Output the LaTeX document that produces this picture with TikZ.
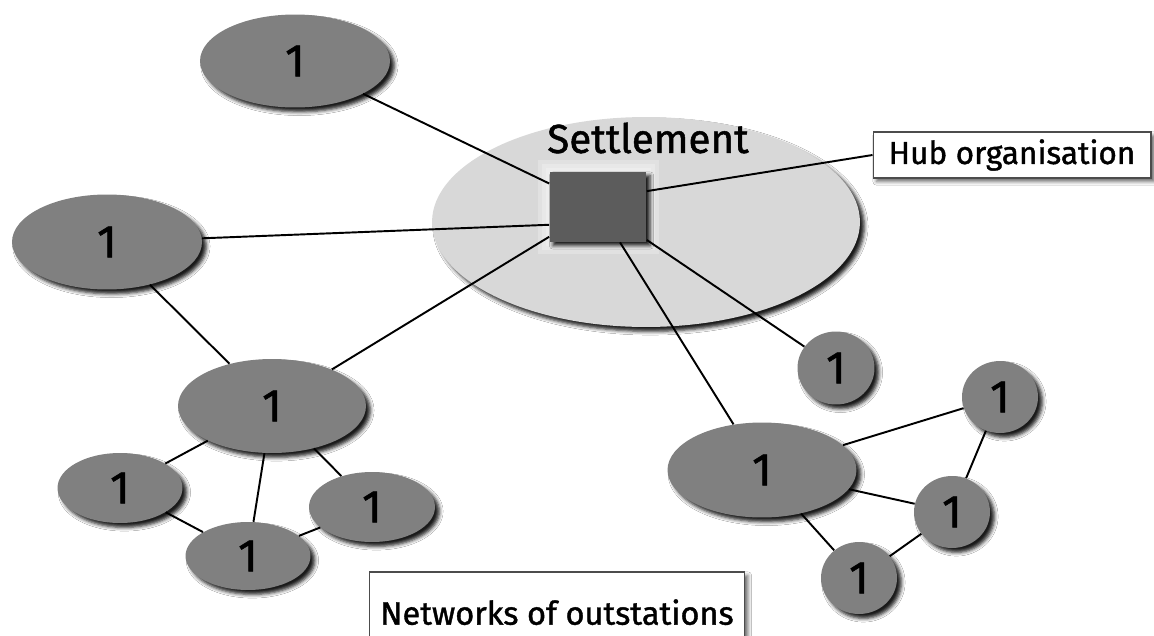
\documentclass[tikz,border=0pt]{standalone}
\usepackage{fontspec}
\setmainfont{Fira Sans}[FakeBold=1.2]
\usepackage{tikz}
\usetikzlibrary{shapes.geometric, positioning, shadows.blur}
\definecolor{stationgray}{RGB}{128,128,128}
\definecolor{settlegray}{RGB}{216,216,216}
\definecolor{hubgray}{RGB}{92,92,92}

\tikzset{
    outstation/.style={ellipse, fill=stationgray, inner sep=0pt,
        font=\fontsize{26}{30}\selectfont,
        blur shadow={shadow xshift=2.5pt, shadow yshift=-2.5pt, shadow blur steps=4, shadow opacity=90}},
    labelbox/.style={rectangle, draw=black!70, fill=white, line width=0.6pt, inner sep=0pt,
        font=\fontsize{18}{22}\selectfont,
        blur shadow={shadow xshift=2pt, shadow yshift=-2pt, shadow blur steps=4, shadow opacity=60}},
    link/.style={draw=black, line width=1.1pt}
}

\begin{document}
\begin{tikzpicture}[x=0.02cm, y=-0.02cm]
    \clip (0,0) rectangle (1154,636);
    \fill[white] (0,0) rectangle (1154,636);

    % settlement and hub
    \node[ellipse, fill=settlegray, minimum width=8.56cm, minimum height=4.2cm,
          blur shadow={shadow xshift=2.5pt, shadow yshift=-2.5pt, shadow blur steps=4, shadow opacity=90}]
          (settlement) at (646,222) {};
    \node[font=\fontsize{23}{27}\selectfont] (settlementlbl) at (648,138) {Settlement};
    \foreach \g in {4,8,12}
        \fill[white, opacity=0.25] (550-\g,172-\g) rectangle (647+\g,242+\g);
    \node[rectangle, fill=hubgray, minimum width=1.94cm, minimum height=1.4cm, inner sep=0pt,
          blur shadow={shadow xshift=2pt, shadow yshift=-2pt, shadow blur steps=4, shadow opacity=90}]
          (hubsq) at (598,207) {};

    % labels
    \node[labelbox, minimum width=5.56cm, minimum height=0.92cm] (hublbl) at (1012,155) {Hub organisation};
    \node[labelbox, minimum width=7.5cm, minimum height=1.6cm, text depth=0pt, font=\fontsize{18.5}{22}\selectfont] (netlbl) at (557,612) {Networks of outstations};

    % outstations, left side
    \node[outstation, minimum width=3.8cm, minimum height=1.86cm] (topst) at (295,61) {1};
    \node[outstation, minimum width=3.8cm, minimum height=1.9cm] (leftst) at (107,242) {1};
    \node[outstation, minimum width=3.76cm, minimum height=1.88cm] (midst) at (272,406) {1};
    \node[outstation, minimum width=2.5cm, minimum height=1.4cm] (smlst) at (120,488) {1};
    \node[outstation, minimum width=2.5cm, minimum height=1.36cm] (botst) at (248,556) {1};
    \node[outstation, minimum width=2.52cm, minimum height=1.4cm] (smrst) at (372,507) {1};

    % outstations, right side
    \node[outstation, minimum width=1.54cm, minimum height=1.46cm] (lonest) at (836,368) {1};
    \node[outstation, minimum width=3.78cm, minimum height=1.9cm] (rbigst) at (762,470) {1};
    \node[outstation, minimum width=1.52cm, minimum height=1.44cm] (trst) at (1000,397) {1};
    \node[outstation, minimum width=1.52cm, minimum height=1.44cm] (mrst) at (952,512) {1};
    \node[outstation, minimum width=1.52cm, minimum height=1.44cm] (brst) at (859,578) {1};

    % links to the hub
    \draw[link] (topst) -- (hubsq);
    \draw[link] (leftst) -- (hubsq.200);
    \draw[link] (midst) -- (hubsq);
    \draw[link] (hubsq) -- (lonest);
    \draw[link] (hubsq) -- (rbigst);
    \draw[link] (hubsq.18) -- (hublbl.west);

    % left network
    \draw[link] (leftst) -- (midst);
    \draw[link] (midst) -- (smlst);
    \draw[link] (midst) -- (botst);
    \draw[link] (midst) -- (smrst);
    \draw[link] (smlst) -- (botst);
    \draw[link] (botst) -- (smrst);

    % right network
    \draw[link] (rbigst) -- (trst);
    \draw[link] (rbigst) -- (mrst);
    \draw[link] (rbigst) -- (brst);
    \draw[link] (trst) -- (mrst);
    \draw[link] (mrst) -- (brst);
\end{tikzpicture}
\end{document}
